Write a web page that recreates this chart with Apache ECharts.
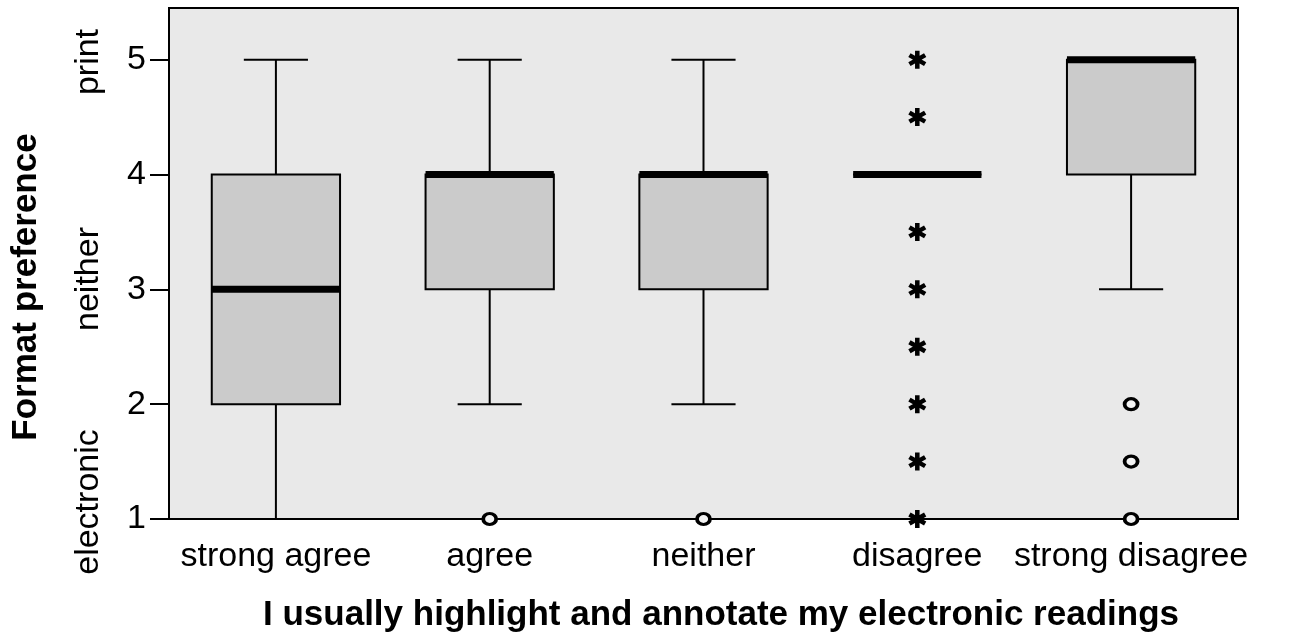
<!DOCTYPE html>
<html>
<head>
<meta charset="utf-8">
<script src="https://cdn.jsdelivr.net/npm/echarts@6/dist/echarts.min.js"></script>
<style>
  html, body { margin: 0; padding: 0; background: #fff; }
  #chart { width: 1305px; height: 641px; }
</style>
</head>
<body>
<div id="chart"></div>
<script>
// agreement with "I usually highlight and annotate my electronic readings"
const categories = ["strong agree", "agree", "neither", "disagree", "strong disagree"];

// five-number summaries per group (format preference 1..5)
const lows    = [1, 2, 2, 4, 3];
const q1s     = [2, 3, 3, 4, 4];
const medians = [3, 4, 4, 4, 5];
const q3s     = [4, 4, 4, 4, 5];
const highs   = [5, 5, 5, 4, 5];

// outliers: [group index, value]
const circleOutliers = [[1, 1], [2, 1], [4, 2], [4, 1.5], [4, 1]];
const starOutliers = [[3, 5], [3, 4.5], [3, 3.5], [3, 3], [3, 2.5], [3, 2], [3, 1.5], [3, 1]];

const yTicks = [1, 2, 3, 4, 5];

const FONT = "'Liberation Sans', Arial, sans-serif";
const asterisk = "path://M-1.5,6L1.5,6L1.5,-6L-1.5,-6Z" +
  "M4.446,4.299L5.946,1.701L-4.446,-4.299L-5.946,-1.701Z" +
  "M-5.946,1.701L-4.446,4.299L5.946,-1.701L4.446,-4.299Z";

const boxData = categories.map((c, i) => [i, lows[i], q1s[i], medians[i], q3s[i], highs[i]]);

function renderBox(params, api) {
  const x = api.value(0);
  const low = api.coord([x, api.value(1)]);
  const q1 = api.coord([x, api.value(2)]);
  const med = api.coord([x, api.value(3)]);
  const q3 = api.coord([x, api.value(4)]);
  const high = api.coord([x, api.value(5)]);
  const band = api.size([1, 0])[0];
  const bw = band * 0.6;
  const cw = bw / 2;
  const cx = low[0];
  const thin = { stroke: "#000", lineWidth: 2 };
  return {
    type: "group",
    children: [
      { type: "line", shape: { x1: cx, y1: low[1], x2: cx, y2: q1[1] }, style: thin },
      { type: "line", shape: { x1: cx, y1: q3[1], x2: cx, y2: high[1] }, style: thin },
      { type: "line", shape: { x1: cx - cw / 2, y1: low[1], x2: cx + cw / 2, y2: low[1] }, style: thin },
      { type: "line", shape: { x1: cx - cw / 2, y1: high[1], x2: cx + cw / 2, y2: high[1] }, style: thin },
      {
        type: "rect",
        shape: { x: cx - bw / 2, y: q3[1], width: bw, height: q1[1] - q3[1] },
        style: { fill: "#cbcbcb", stroke: "#000", lineWidth: 2 }
      },
      {
        type: "line",
        shape: { x1: cx - bw / 2, y1: med[1], x2: cx + bw / 2, y2: med[1] },
        style: { stroke: "#000", lineWidth: 7 }
      }
    ]
  };
}

const chart = echarts.init(document.getElementById("chart"));
chart.setOption({
  animation: false,
  backgroundColor: "#fff",
  grid: {
    left: 169,
    right: 67,
    top: 8,
    bottom: 122,
    show: true,
    backgroundColor: "#e9e9e9",
    borderColor: "#000",
    borderWidth: 2
  },
  xAxis: {
    type: "category",
    data: categories,
    name: "I usually highlight and annotate my electronic readings",
    nameLocation: "middle",
    nameGap: 79,
    nameTextStyle: { fontFamily: FONT, fontSize: 35, fontWeight: "bold", color: "#000", padding: [0, 0, 0, 35] },
    axisLine: { lineStyle: { color: "#000", width: 2 } },
    axisTick: { alignWithLabel: true, length: 14, lineStyle: { color: "#000", width: 2 } },
    axisLabel: { fontFamily: FONT, fontSize: 34, color: "#000", margin: 21, interval: 0, hideOverlap: false },
    splitLine: { show: false }
  },
  yAxis: {
    type: "value",
    min: 1,
    max: 5.45,
    interval: 1,
    axisLine: { show: true, lineStyle: { color: "#000", width: 2 } },
    axisTick: { show: true, length: 19, customValues: yTicks, lineStyle: { color: "#000", width: 2 } },
    axisLabel: { fontFamily: FONT, fontSize: 34, color: "#000", margin: 23, customValues: yTicks },
    splitLine: { show: false }
  },
  graphic: [
    { type: "text", x: 26, y: 287, rotation: Math.PI / 2,
      style: { text: "Format preference", font: "bold 35px " + FONT, fill: "#000", textAlign: "center", textVerticalAlign: "middle" } },
    { type: "text", x: 89, y: 62, rotation: Math.PI / 2,
      style: { text: "print", font: "34px " + FONT, fill: "#000", textAlign: "center", textVerticalAlign: "middle" } },
    { type: "text", x: 89, y: 279, rotation: Math.PI / 2,
      style: { text: "neither", font: "34px " + FONT, fill: "#000", textAlign: "center", textVerticalAlign: "middle" } },
    { type: "text", x: 89, y: 502, rotation: Math.PI / 2,
      style: { text: "electronic", font: "34px " + FONT, fill: "#000", textAlign: "center", textVerticalAlign: "middle" } }
  ],
  series: [
    {
      type: "custom",
      renderItem: renderBox,
      data: boxData,
      encode: { x: 0, y: [1, 2, 3, 4, 5] },
      z: 2
    },
    {
      type: "scatter",
      data: circleOutliers,
      symbol: "circle",
      symbolSize: [13, 11],
      itemStyle: { color: "#f4f4f4", borderColor: "#000", borderWidth: 3.5, opacity: 1 },
      z: 3
    },
    {
      type: "scatter",
      data: starOutliers,
      symbol: asterisk,
      symbolSize: 18,
      itemStyle: { color: "#000", opacity: 1 },
      z: 3
    }
  ]
});
</script>
</body>
</html>
